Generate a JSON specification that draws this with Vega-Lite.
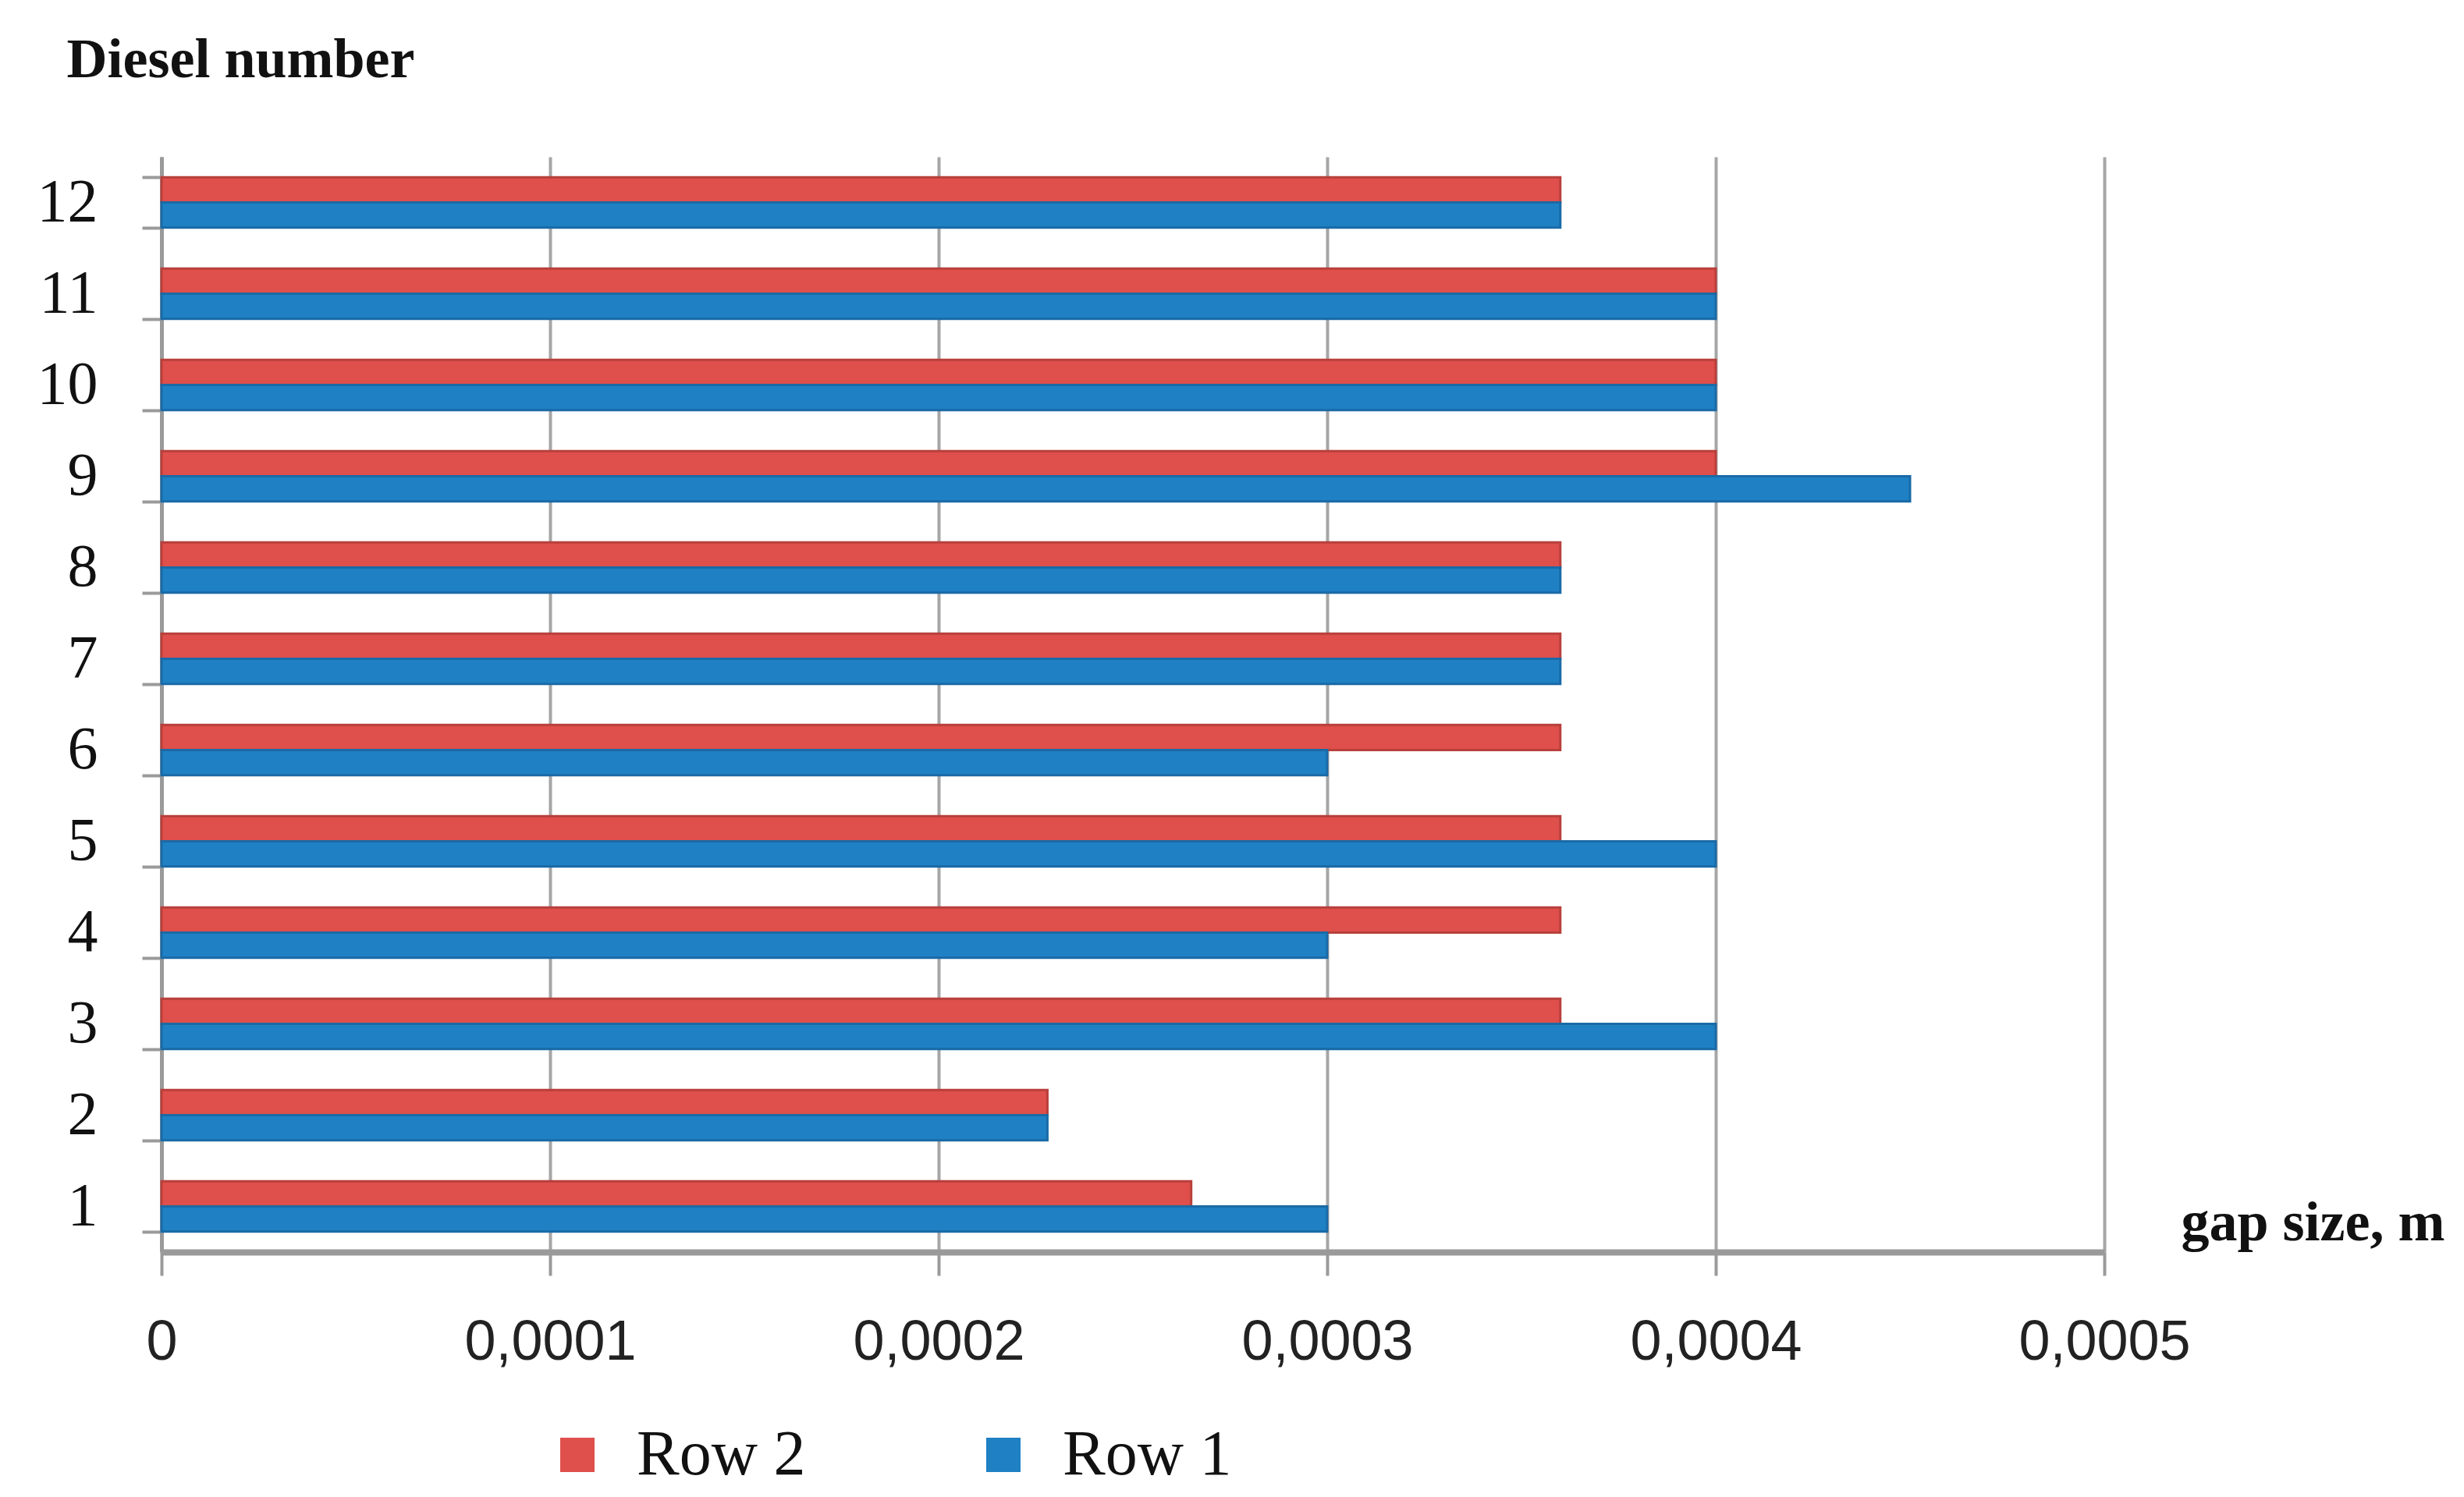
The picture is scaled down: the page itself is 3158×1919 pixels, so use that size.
{
  "$schema": "https://vega.github.io/schema/vega-lite/v6.json",
  "autosize": {"type": "none"},
  "width": 2490,
  "height": 1404,
  "padding": {"left": 207, "top": 201, "right": 461, "bottom": 314},
  "background": "white",
  "data": {
    "values": [
      {"diesel": "1", "series": "Row 2", "gap": 0.000265},
      {"diesel": "1", "series": "Row 1", "gap": 0.0003},
      {"diesel": "2", "series": "Row 2", "gap": 0.000228},
      {"diesel": "2", "series": "Row 1", "gap": 0.000228},
      {"diesel": "3", "series": "Row 2", "gap": 0.00036},
      {"diesel": "3", "series": "Row 1", "gap": 0.0004},
      {"diesel": "4", "series": "Row 2", "gap": 0.00036},
      {"diesel": "4", "series": "Row 1", "gap": 0.0003},
      {"diesel": "5", "series": "Row 2", "gap": 0.00036},
      {"diesel": "5", "series": "Row 1", "gap": 0.0004},
      {"diesel": "6", "series": "Row 2", "gap": 0.00036},
      {"diesel": "6", "series": "Row 1", "gap": 0.0003},
      {"diesel": "7", "series": "Row 2", "gap": 0.00036},
      {"diesel": "7", "series": "Row 1", "gap": 0.00036},
      {"diesel": "8", "series": "Row 2", "gap": 0.00036},
      {"diesel": "8", "series": "Row 1", "gap": 0.00036},
      {"diesel": "9", "series": "Row 2", "gap": 0.0004},
      {"diesel": "9", "series": "Row 1", "gap": 0.00045},
      {"diesel": "10", "series": "Row 2", "gap": 0.0004},
      {"diesel": "10", "series": "Row 1", "gap": 0.0004},
      {"diesel": "11", "series": "Row 2", "gap": 0.0004},
      {"diesel": "11", "series": "Row 1", "gap": 0.0004},
      {"diesel": "12", "series": "Row 2", "gap": 0.00036},
      {"diesel": "12", "series": "Row 1", "gap": 0.00036}
    ]
  },
  "mark": {"type": "bar", "strokeWidth": 3},
  "encoding": {
    "y": {
      "field": "diesel",
      "type": "ordinal",
      "sort": ["12", "11", "10", "9", "8", "7", "6", "5", "4", "3", "2", "1"],
      "scale": {"paddingInner": 0.45, "paddingOuter": 0.225},
      "axis": {
        "title": "Diesel number",
        "titleAngle": 0,
        "titleAlign": "left",
        "titleBaseline": "middle",
        "titleX": -122,
        "titleY": -125,
        "titleFont": "Liberation Serif",
        "titleFontSize": 72,
        "titleFontWeight": "bold",
        "titleColor": "#111111",
        "labelFont": "Liberation Serif",
        "labelFontSize": 78,
        "labelColor": "#111111",
        "labelPadding": 57,
        "tickSize": 25,
        "tickWidth": 4,
        "tickColor": "#9a9a9a",
        "tickBand": "extent",
        "domainColor": "#9a9a9a",
        "domainWidth": 5,
        "grid": false
      }
    },
    "yOffset": {
      "field": "series",
      "type": "nominal",
      "sort": ["Row 2", "Row 1"],
      "scale": {"paddingInner": 0, "paddingOuter": 0}
    },
    "x": {
      "field": "gap",
      "type": "quantitative",
      "scale": {"domain": [0, 0.0005], "nice": false, "zero": true},
      "axis": {
        "values": [0, 0.0001, 0.0002, 0.0003, 0.0004, 0.0005],
        "labelExpr": "datum.value == 0 ? '0' : replace(format(datum.value, '.4f'), '.', ',')",
        "labelFont": "Liberation Sans Narrow, Liberation Sans",
        "labelFontSize": 72,
        "labelColor": "#222222",
        "labelPadding": 50,
        "labelLimit": 500,
        "labelFlush": false,
        "labelOverlap": false,
        "tickSize": 30,
        "tickWidth": 4,
        "tickColor": "#9a9a9a",
        "domainColor": "#9a9a9a",
        "domainWidth": 8,
        "grid": true,
        "gridColor": "#a6a6a6",
        "gridWidth": 4,
        "title": "gap size, m",
        "titleFont": "Liberation Serif",
        "titleFontSize": 72,
        "titleFontWeight": "bold",
        "titleColor": "#111111",
        "titleAlign": "left",
        "titleBaseline": "middle",
        "titleX": 2588,
        "titleY": -38
      }
    },
    "color": {
      "field": "series",
      "type": "nominal",
      "scale": {"domain": ["Row 2", "Row 1"], "range": ["#DF4F4B", "#1F81C4"]},
      "legend": {
        "title": null,
        "orient": "none",
        "direction": "horizontal",
        "legendX": 492,
        "legendY": 1623,
        "symbolType": "square",
        "symbolSize": 1936,
        "symbolStrokeWidth": 0,
        "labelFont": "Liberation Serif",
        "labelFontSize": 82,
        "labelColor": "#111111",
        "labelOffset": 35,
        "columnPadding": 212,
        "labelLimit": 400
      }
    },
    "stroke": {
      "field": "series",
      "type": "nominal",
      "scale": {"domain": ["Row 2", "Row 1"], "range": ["#B8403C", "#1A6AA6"]},
      "legend": null
    }
  },
  "config": {
    "view": {"stroke": null}
  }
}
